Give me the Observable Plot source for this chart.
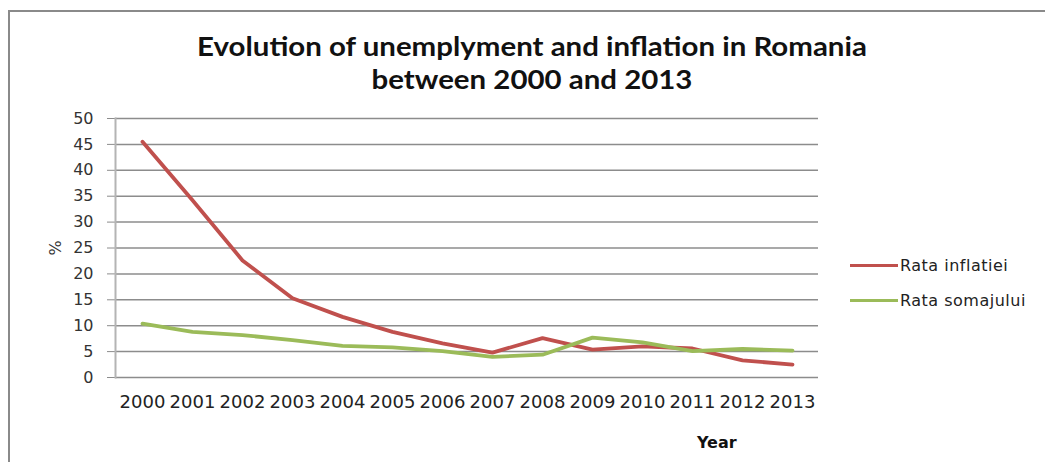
<!DOCTYPE html>
<html>
<head>
<meta charset="utf-8">
<script src="https://cdn.jsdelivr.net/npm/d3@7"></script>
<script src="https://cdn.jsdelivr.net/npm/@observablehq/plot@0.6"></script>
<style>
  html, body { margin: 0; padding: 0; background: #fff; width: 1045px; height: 462px; overflow: hidden; }
  #frame { position: absolute; left: 8px; top: 10px; width: 1100px; height: 500px;
           border-top: 2px solid #8a8a8a; border-left: 2px solid #8a8a8a; }
  #title { position: absolute; left: 0; width: 1064px; top: 29px; text-align: center;
           font-family: Lato, sans-serif; font-weight: 700; font-size: 27px; line-height: 33px; color: #111;
           transform: scaleX(1.09); transform-origin: 532px 0; }
  #chart { position: absolute; left: 0; top: 100px; }
  #xlabel { position: absolute; left: 697px; top: 433px; font-family: "DejaVu Sans", sans-serif;
            font-weight: bold; font-size: 16px; color: #111; }
  .leg { position: absolute; left: 850px; font-family: "DejaVu Sans", sans-serif; font-size: 16px; color: #222;
         letter-spacing: 0.5px; display: flex; align-items: center; height: 20px; }
  .leg span.sw { display: inline-block; width: 48px; height: 3px; margin-right: 2px; }
</style>
</head>
<body>
<div id="frame"></div>
<div id="title">Evolution of unemplyment and inflation in Romania<br>between 2000 and 2013</div>
<div id="chart"></div>
<div id="xlabel">Year</div>
<div class="leg" style="top:255px"><span class="sw" style="background:#C0504D"></span>Rata inflatiei</div>
<div class="leg" style="top:290px"><span class="sw" style="background:#9BBB59"></span>Rata somajului</div>
<script>
const years = ["2000","2001","2002","2003","2004","2005","2006","2007","2008","2009","2010","2011","2012","2013"];
const inflation = [45.5, 34.2, 22.6, 15.3, 11.7, 8.8, 6.6, 4.8, 7.6, 5.4, 6.0, 5.6, 3.3, 2.5];
const unemployment = [10.4, 8.8, 8.2, 7.2, 6.1, 5.8, 5.1, 4.0, 4.4, 7.7, 6.8, 5.1, 5.5, 5.2];
const yTicks = [0, 5, 10, 15, 20, 25, 30, 35, 40, 45, 50];
const seriesNames = ["Rata inflatiei", "Rata somajului"];
const seriesColors = ["#C0504D", "#9BBB59"];

const rows = [];
years.forEach((y, i) => {
  rows.push({year: y, value: inflation[i], series: seriesNames[0]});
  rows.push({year: y, value: unemployment[i], series: seriesNames[1]});
});

const chart = Plot.plot({
  width: 1045,
  height: 362,
  marginLeft: 115,
  marginRight: 227,
  marginTop: 18,
  marginBottom: 85,
  style: {fontFamily: "DejaVu Sans, sans-serif", background: "transparent"},
  x: {type: "point", domain: years, padding: 0.5, label: null},
  y: {domain: [0, 50], ticks: yTicks, label: "%"},
  color: {domain: seriesNames, range: seriesColors},
  marks: [
    Plot.ruleY(yTicks, {stroke: "#8c8c8c", strokeWidth: 1.5, strokeOpacity: 1}),
    Plot.axisY({ticks: yTicks, tickSize: 8, tickPadding: 14, stroke: "#8c8c8c", strokeOpacity: 1,
                fontSize: 16, fill: "#333", label: "%", labelAnchor: "center", labelArrow: "none", labelOffset: 66}),
    Plot.axisX({tickSize: 0, tickPadding: 18, fontSize: 18, fill: "#222", label: null}),
    Plot.frame({anchor: "left", stroke: "#b4b4b4", strokeWidth: 2}),
    Plot.line(rows, {x: "year", y: "value", z: "series", stroke: "series", strokeWidth: 3.8,
                     strokeLinejoin: "round", strokeLinecap: "round"})
  ]
});
chart.querySelectorAll("g[aria-label='y-axis label'] text").forEach(t => t.setAttribute("font-size", 16));
document.getElementById("chart").appendChild(chart);
</script>
</body>
</html>
